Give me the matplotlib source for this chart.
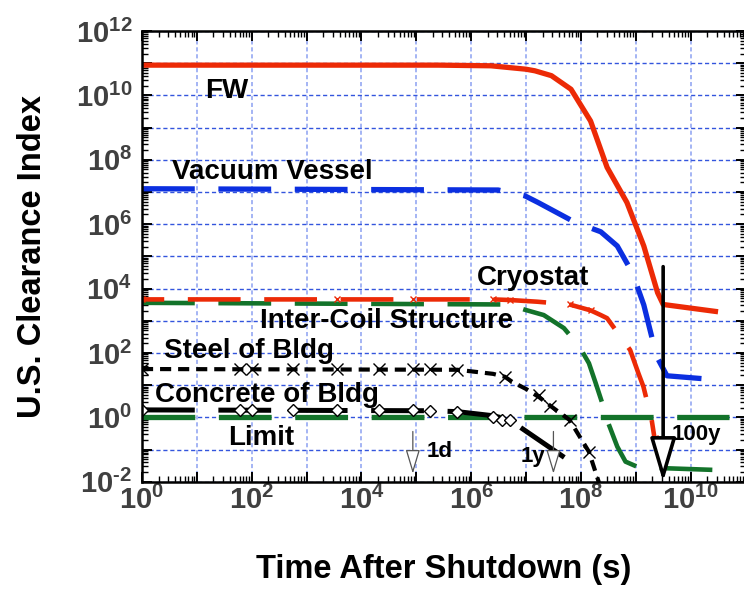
import matplotlib

matplotlib.use("Agg")
import matplotlib.pyplot as plt
import numpy as np
from matplotlib.ticker import FuncFormatter, LogLocator, NullFormatter

# ---- data (time in s, clearance index) ----
fw_t = [1, 2.5e5, 2.3e6, 1e7, 1.45e7, 2.9e7, 6.6e7, 1.5e8, 3.0e8, 6.9e8, 1.4e9, 2.5e9, 3.16e9, 3.16e10]
fw_v = [8.7e10, 8.7e10, 8.3e10, 6.5e10, 5.8e10, 4.1e10, 1.55e10, 1.6e9, 5.8e7, 4.7e6, 2.1e5, 7.4e3, 3.2e3, 1.9e3]

vv_t = [1, 3.1e6, 9.5e6, 1.66e7, 7.6e7, 2.3e8, 4.6e8, 7.4e8, 9.5e8, 1.4e9, 2.4e9, 3.7e9, 3.16e10]
vv_v = [1.26e7, 1.15e7, 7.6e6, 4.7e6, 1.17e6, 5.8e5, 2.1e5, 5.0e4, 2.0e4, 3.1e3, 78, 19.5, 14.5]

cryo_t = [1, 2.5e6, 5.1e6, 1.6e7, 6.2e7, 1.5e8, 2.3e8, 3.0e8, 7.9e8, 1.12e9, 1.38e9, 1.95e9, 2.2e9, 2.95e9, 4.2e9]
cryo_v = [4.6e3, 4.6e3, 4.4e3, 3.9e3, 3.2e3, 2.1e3, 1.5e3, 1.2e3, 123, 23, 8.9, 0.83, 0.22, 0.037, 0.005]
cryo_mt = [1, 3.6e3, 8.6e4, 2.5e6, 5.1e6, 6.2e7, 1.5e8, 2.2e9]
cryo_mv = [4.6e3, 4.6e3, 4.6e3, 4.6e3, 4.4e3, 3.2e3, 2.1e3, 0.22]

ics_t = [1, 4.7e6, 9.5e6, 2.1e7, 4.9e7, 9.3e7, 1.4e8, 1.86e8, 2.45e8, 3.0e8, 4.6e8, 6.5e8, 1.12e9, 3.16e10]
ics_v = [3.6e3, 3.2e3, 2.2e3, 1.5e3, 590, 160, 48, 11.5, 2.75, 0.83, 0.123, 0.042, 0.028, 0.023]

steel_t = [1, 5.6e5, 2.5e6, 4.1e6, 5.6e6, 1e7, 1.74e7, 2.75e7, 6.2e7, 1.4e8, 2.3e8]
steel_v = [31.6, 30, 22.4, 18.2, 12.6, 7.6, 4.2, 2.3, 0.83, 0.085, 0.0063]
steel_mt = [1, 62, 100, 575, 3.6e3, 2.1e4, 8.6e4, 1.8e5, 5.6e5, 4.1e6, 1.74e7, 2.75e7, 6.2e7, 1.4e8]
steel_mv = [31.6, 31.6, 31.6, 31.6, 31.6, 31.6, 31.6, 31.6, 30, 18.2, 5.0, 2.2, 0.83, 0.085]

conc_t = [1, 1.8e5, 5.6e5, 2.5e6, 5.1e6, 8.3e6, 7.2e7]
conc_v = [1.7, 1.6, 1.5, 1.12, 0.83, 0.46, 0.037]
conc_mt = [1, 62, 100, 575, 3.6e3, 2.1e4, 8.6e4, 1.8e5, 5.6e5, 2.5e6, 3.7e6, 5.1e6]
conc_mv = [1.7, 1.7, 1.7, 1.7, 1.7, 1.7, 1.7, 1.55, 1.5, 1.05, 0.83, 0.83]

limit_t = [1, 5e10]
limit_v = [1, 1]

marks = {"1d": 8.64e4, "1y": 3.156e7, "100y": 3.156e9}

RED = "#ec2a06"
BLUE = "#0b2fe0"
GREEN = "#13732a"
LONG = (0, (38, 17))

plt.rcParams["font.family"] = ["Liberation Sans", "DejaVu Sans"]
plt.rcParams["font.weight"] = "bold"
plt.rcParams["mathtext.fontset"] = "custom"
plt.rcParams["mathtext.bf"] = "Liberation Sans:bold"
plt.rcParams["mathtext.rm"] = "Liberation Sans:bold"
plt.rcParams["lines.scale_dashes"] = False

fig = plt.figure(figsize=(7.44, 5.90), dpi=100)
ax = fig.add_axes([142 / 744, 108.3 / 590, 603.5 / 744, 450.7 / 590])
ax.set_xscale("log")
ax.set_yscale("log")
ax.set_xlim(1, 1e11)
ax.set_ylim(1e-2, 1e12)

ax.set_axisbelow(True)
ax.grid(True, which="major", axis="y", color="#3355dd", ls=(0, (3, 2)), lw=1.0)
ax.grid(True, which="major", axis="x", color="#a4b4f4", ls=(0, (3, 2)), lw=1.4)

ax.plot(limit_t, limit_v, color=GREEN, lw=3.8, ls=LONG)
ax.plot(fw_t, fw_v, color=RED, lw=3.8, solid_capstyle="butt")
ax.plot(vv_t, vv_v, color=BLUE, lw=3.8, ls=LONG)
ax.plot(ics_t, ics_v, color=GREEN, lw=3.3, ls=LONG)
ax.plot(cryo_t, cryo_v, color=RED, lw=3.3, ls=(22, (38, 17)))
ax.plot(cryo_mt, cryo_mv, ls="none", marker="x", ms=5, mew=1, color=RED)
ax.plot(steel_t, steel_v, color="black", lw=3.0, ls=(0, (8, 5)))
ax.plot(steel_mt, steel_mv, ls="none", marker="x", ms=9, mew=1, color="black")
ax.plot(conc_t, conc_v, color="black", lw=3.6, ls=LONG)
ax.plot(conc_mt, conc_mv, ls="none", marker="D", ms=6, mew=1, mfc="white", mec="black")

# time markers
for key in ("1d", "1y"):
    ax.annotate("", xy=(marks[key], 10 ** -1.75), xytext=(marks[key], 10 ** -0.44),
                arrowprops=dict(arrowstyle="-|>,head_length=1.5,head_width=0.45",
                                lw=0.9, color="#555555", fc="white", shrinkA=0, shrinkB=0))
ax.annotate("", xy=(marks["100y"], 1e-2), xytext=(marks["100y"], 10 ** 4.68),
            arrowprops=dict(arrowstyle="-|>,head_length=2.7,head_width=0.8",
                            lw=2.6, ec="black", fc="white", shrinkA=0, shrinkB=0))

lab = dict(transform=ax.transAxes, fontsize=20, fontweight="bold", va="center", ha="left")
ax.text(0.104, 0.866, "FW", **lab)
ax.text(0.050, 0.687, "Vacuum Vessel", **lab)
ax.text(0.555, 0.452, "Cryostat", **lab)
ax.text(0.196, 0.356, "Inter-Coil Structure", **lab)
ax.text(0.036, 0.290, "Steel of Bldg", **lab)
ax.text(0.0215, 0.192, "Concrete of Bldg", **lab)
ax.text(0.1425, 0.097, "Limit", **lab)
small = dict(transform=ax.transAxes, fontsize=16, fontweight="bold", va="center")
ax.text(0.472, 0.068, "1d", ha="left", **small)
ax.text(0.668, 0.057, "1y", ha="right", **small)
ax.text(0.878, 0.104, "100y", ha="left", **small)

# axes styling
def dec_fmt(v, pos):
    e = int(round(np.log10(v)))
    if e % 2:
        return ""
    exp = str(e).replace("-", "\u2010")
    return r"$\mathbf{10^{%s}}$" % exp

for axis in (ax.xaxis, ax.yaxis):
    axis.set_major_locator(LogLocator(base=10, numticks=100))
    axis.set_minor_locator(LogLocator(base=10, subs=np.arange(2, 10), numticks=100))
    axis.set_major_formatter(FuncFormatter(dec_fmt))
    axis.set_minor_formatter(NullFormatter())

ax.tick_params(which="both", direction="in", top=True, right=True, labelsize=21,
               labelcolor="#404040")
ax.tick_params(which="major", length=7, width=1.4)
ax.tick_params(which="minor", length=4, width=1.0)
ax.tick_params(axis="x", pad=3)
ax.tick_params(axis="y", pad=7)
for s in ax.spines.values():
    s.set_linewidth(1.8)

ax.set_xlabel("Time After Shutdown (s)", fontsize=23.5, fontweight="bold")
ax.set_ylabel("U.S. Clearance Index", fontsize=23.5, fontweight="bold")
ax.xaxis.set_label_coords(0.5, -0.16)
ax.yaxis.set_label_coords(-0.155, 0.5)

fig.savefig("out.png", dpi=100)
